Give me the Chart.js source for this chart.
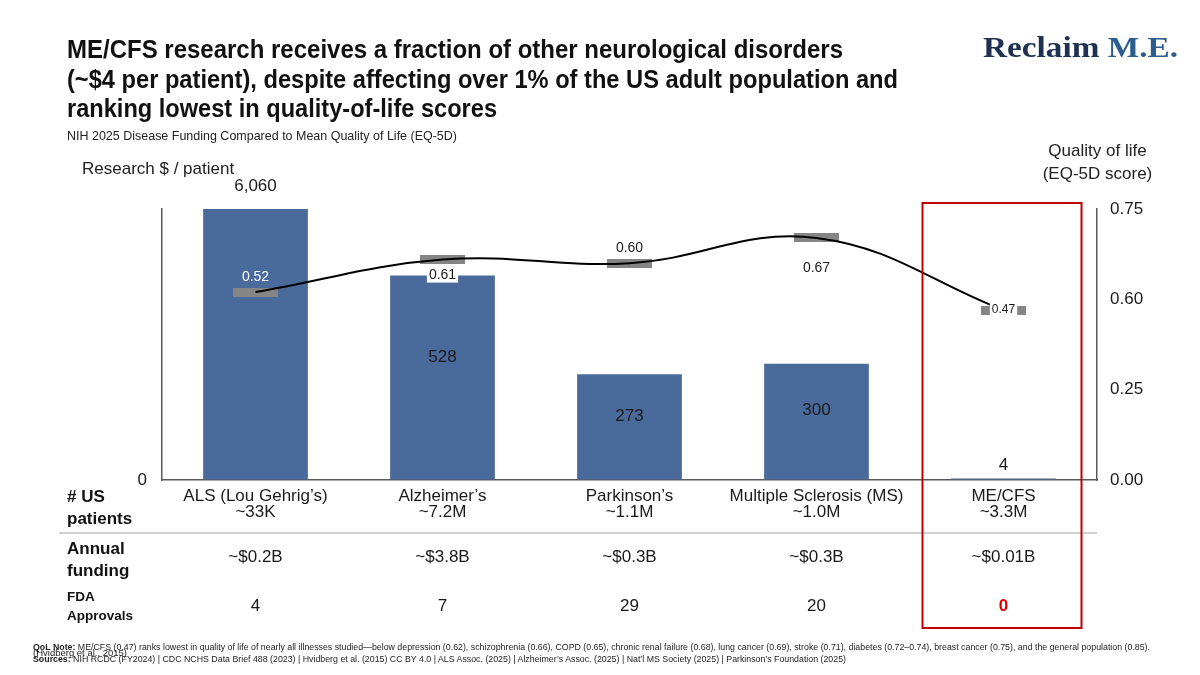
<!DOCTYPE html>
<html>
<head>
<meta charset="utf-8">
<title>ME/CFS research funding vs quality of life</title>
<script src="https://cdn.jsdelivr.net/npm/chart.js@4.4.1/dist/chart.umd.min.js"></script>
<style>
  html, body { margin: 0; padding: 0; background: #fff; }
  body { width: 1200px; height: 675px; position: relative; overflow: hidden;
         font-family: "Liberation Sans", Arial, sans-serif; color: #111; }
  #chart { position: absolute; left: 0; top: 0; }
  .t { position: absolute; white-space: nowrap; transform-origin: 0 50%; }
  .title { font-size: 25px; font-weight: bold; line-height: 30px; left: 67px; color: #111; }
  .sub { font-size: 13px; line-height: 16px; left: 67px; top: 128px; color: #222; }
  .axis-title { font-size: 17px; line-height: 23px; color: #222; }
  .row-head { font-size: 17px; font-weight: bold; line-height: 22px; left: 67px; color: #111; }
  .logo { font-family: "Liberation Serif", "DejaVu Serif", serif; font-weight: bold;
          font-size: 30px; line-height: 36px; left: 983px; top: 29px; }
  .logo .a { color: #1f3152; }
  .logo .b { color: #2d5d8c; }
  .foot { font-size: 9.5px; line-height: 12px; left: 33px; color: #222; }
</style>
</head>
<body>
<canvas id="chart" width="1200" height="675"></canvas>

<div class="t title" style="top:34px" data-fit="776">ME/CFS research receives a fraction of other neurological disorders</div>
<div class="t title" style="top:64px" data-fit="831">(~$4 per patient), despite affecting over 1% of the US adult population and</div>
<div class="t title" style="top:93px" data-fit="430">ranking lowest in quality-of-life scores</div>
<div class="t sub" data-fit="390">NIH 2025 Disease Funding Compared to Mean Quality of Life (EQ-5D)</div>
<div class="t logo" data-fit="195"><span class="a">Reclaim</span> <span class="b">M.E.</span></div>

<div class="t axis-title" style="left:82px; top:157px">Research $ / patient</div>
<div class="t axis-title" style="left:1000px; width:195px; top:139px; text-align:center">Quality of life<br>(EQ-5D score)</div>

<div class="t row-head" style="top:486px"># US<br>patients</div>
<div class="t row-head" style="top:538px">Annual<br>funding</div>
<div class="t row-head" style="top:587px; font-size:13.5px; line-height:19px">FDA<br>Approvals</div>

<div class="t foot" style="top:641px" data-fit="1117"><b>QoL Note:</b> ME/CFS (0.47) ranks lowest in quality of life of nearly all illnesses studied—below depression (0.62), schizophrenia (0.66), COPD (0.65), chronic renal failure (0.68), lung cancer (0.69), stroke (0.71), diabetes (0.72–0.74), breast cancer (0.75), and the general population (0.85).</div>
<div class="t foot" style="top:647px">(Hvidberg et al., 2015)</div>
<div class="t foot" style="top:653px" data-fit="813"><b>Sources:</b> NIH RCDC (FY2024) | CDC NCHS Data Brief 488 (2023) | Hvidberg et al. (2015) CC BY 4.0 | ALS Assoc. (2025) | Alzheimer’s Assoc. (2025) | Nat’l MS Society (2025) | Parkinson’s Foundation (2025)</div>

<script>
// chart data
const categories = ['ALS (Lou Gehrig’s)', 'Alzheimer’s', 'Parkinson’s', 'Multiple Sclerosis (MS)', 'ME/CFS'];
const usPatients = ['~33K', '~7.2M', '~1.1M', '~1.0M', '~3.3M'];
const researchPerPatient = [6060, 528, 273, 300, 4];
const qualityOfLife = [0.52, 0.61, 0.60, 0.67, 0.47];
const annualFunding = ['~$0.2B', '~$3.8B', '~$0.3B', '~$0.3B', '~$0.01B'];
const fdaApprovals = [4, 7, 29, 20, 0];
const qolTicks = [0, 0.25, 0.5, 0.75];
const qolTickLabels = ['0.00', '0.25', '0.60', '0.75'];
const researchAxisMax = 700; // ALS runs off the top (broken axis)

const FONT = '"Liberation Sans", Arial, sans-serif';
Chart.defaults.font.family = FONT;
Chart.defaults.color = '#1a1a1a';

// wide grey bar used as the QoL marker
const marker = document.createElement('canvas');
marker.width = 45;
marker.height = 9;
const mctx = marker.getContext('2d');
mctx.fillStyle = '#858585';
mctx.fillRect(0, 0, 45, 9);

// labels on bars and QoL markers
const valueLabels = {
    id: 'valueLabels',
    afterDatasetsDraw(chart) {
        const ctx = chart.ctx;
        const area = chart.chartArea;
        ctx.save();
        ctx.textAlign = 'center';
        ctx.textBaseline = 'middle';

        ctx.font = '17px ' + FONT;
        ctx.fillStyle = '#1a1a1a';
        chart.getDatasetMeta(2).data.forEach((bar, i) => {
            let y;
            if (bar.y < area.top) y = area.top - 23;
            else if (bar.base - bar.y < 20) y = bar.y - 13;
            else y = bar.y + (bar.base - bar.y) * 0.4;
            ctx.fillText(researchPerPatient[i].toLocaleString('en-US'), bar.x, y);
        });

        // where each QoL label sits relative to its marker
        const styles = [
            { dy: -15, color: '#fff' },
            { dy: 16, box: true },
            { dy: -15 },
            { dy: 30 },
            { dy: 0, box: true, size: 12 }
        ];
        chart.getDatasetMeta(1).data.forEach((pt, i) => {
            const s = styles[i];
            const text = qualityOfLife[i].toFixed(2);
            ctx.font = (s.size || 14) + 'px ' + FONT;
            const y = pt.y + s.dy;
            if (s.box) {
                const w = ctx.measureText(text).width + 4;
                ctx.fillStyle = '#fff';
                ctx.fillRect(pt.x - w / 2, y - 7, w, 14);
            }
            ctx.fillStyle = s.color || '#1a1a1a';
            ctx.fillText(text, pt.x, y);
        });
        ctx.restore();
    }
};

// table rows under the axis + red box on ME/CFS
const tableRows = {
    id: 'tableRows',
    afterDraw(chart) {
        const ctx = chart.ctx;
        const x = chart.scales.x;
        const area = chart.chartArea;
        ctx.save();

        ctx.strokeStyle = '#cfcfcf';
        ctx.lineWidth = 2;
        ctx.beginPath();
        ctx.moveTo(59, 533);
        ctx.lineTo(area.right, 533);
        ctx.stroke();

        ctx.textAlign = 'center';
        ctx.textBaseline = 'middle';
        categories.forEach((c, i) => {
            const cx = x.getPixelForValue(i);
            ctx.font = '17px ' + FONT;
            ctx.fillStyle = '#1a1a1a';
            ctx.fillText(annualFunding[i], cx, 557);
            if (fdaApprovals[i] === 0) {
                ctx.font = 'bold 17px ' + FONT;
                ctx.fillStyle = '#e00000';
            }
            ctx.fillText(String(fdaApprovals[i]), cx, 606);
        });

        const last = x.getPixelForValue(categories.length - 1);
        ctx.strokeStyle = '#c00000';
        ctx.lineWidth = 2;
        ctx.strokeRect(last - 81, area.top - 6, 159, 628 - area.top + 6);
        ctx.restore();
    }
};

const ctx = document.getElementById('chart').getContext('2d');
new Chart(ctx, {
    type: 'bar',
    data: {
        labels: categories.map((c, i) => [c, usPatients[i]]),
        datasets: [
            {
                type: 'line',
                data: qualityOfLife,
                yAxisID: 'qol',
                borderColor: '#000',
                borderWidth: 2,
                tension: 0.4,
                pointRadius: 0,
                order: 1
            },
            {
                type: 'line',
                data: qualityOfLife,
                yAxisID: 'qol',
                showLine: false,
                pointStyle: marker,
                pointRadius: 5,
                order: 2
            },
            {
                data: researchPerPatient,
                yAxisID: 'y',
                backgroundColor: '#4a6a9c',
                categoryPercentage: 1,
                barPercentage: 0.56,
                order: 3
            }
        ]
    },
    options: {
        responsive: false,
        animation: false,
        layout: { padding: { top: 209, bottom: 135, left: 0, right: 0 } },
        plugins: { legend: { display: false }, tooltip: { enabled: false } },
        scales: {
            x: {
                grid: { color: 'transparent', drawTicks: false },
                border: { display: true, color: '#595959', width: 1.5 },
                ticks: {
                    font: { size: 17, lineHeight: 0.95 },
                    color: '#1a1a1a',
                    padding: 8,
                    maxRotation: 0,
                    autoSkip: false
                },
                afterFit: s => { s.height = 60; }
            },
            y: {
                position: 'left',
                min: 0,
                max: researchAxisMax,
                grid: { color: 'transparent', drawTicks: false },
                border: { display: true, color: '#595959', width: 1.5 },
                ticks: { font: { size: 17 }, color: '#1a1a1a', padding: 15 },
                afterBuildTicks: a => { a.ticks = [{ value: 0 }]; },
                afterFit: s => { s.width = 162; }
            },
            qol: {
                position: 'right',
                min: 0,
                max: 0.75,
                grid: { color: 'transparent', drawTicks: false },
                border: { display: true, color: '#595959', width: 1.5 },
                ticks: {
                    font: { size: 17 },
                    color: '#1a1a1a',
                    padding: 13,
                    callback: (v, i) => qolTickLabels[i]
                },
                afterBuildTicks: a => { a.ticks = qolTicks.map(v => ({ value: v })); },
                afterFit: s => { s.width = 103; }
            }
        }
    },
    plugins: [valueLabels, tableRows]
});

// squeeze text blocks to the widths they have on the slide
document.querySelectorAll('[data-fit]').forEach(el => {
    const w = el.getBoundingClientRect().width;
    el.style.transform = 'scaleX(' + (parseFloat(el.dataset.fit) / w) + ')';
});
</script>
</body>
</html>
